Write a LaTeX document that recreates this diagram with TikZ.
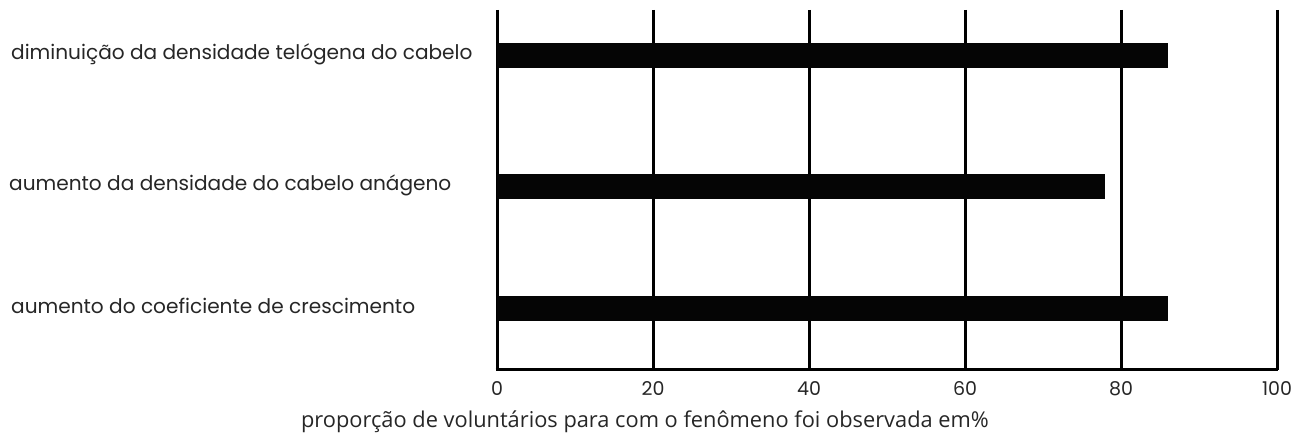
\documentclass[tikz,border=0pt]{standalone}
\usepackage{fontspec}
\setmainfont{Poppins}
\newfontfamily\titlefont{Open Sans}
\usepackage{tikz}

\begin{document}
\begin{tikzpicture}[x=1pt, y=-1pt,
	grid/.style={line width=3pt, black},
	bar/.style={fill=black!98},
	cat/.style={anchor=west, inner sep=0pt, font=\fontsize{20.1}{24}\selectfont, text=black!85},
	tick/.style={inner sep=0pt, font=\fontsize{19}{23}\selectfont, text=black!85},
	axistitle/.style={inner sep=0pt, font=\titlefont\fontsize{21.8}{26}\selectfont, text=black!85}]
	\useasboundingbox (0,0) rectangle (1306,436);

	% Category labels
	\node [cat] (dens)  at (11,54)  {diminuição da densidade telógena do cabelo};
	\node [cat] (anag)  at (9,185)  {aumento da densidade do cabelo anágeno};
	\node [cat] (coef)  at (11,306) {aumento do coeficiente de crescimento};

	% Grid, axis and bars (one unit = one percent)
	\begin{scope}[shift={(497,0)}, x=7.8pt]
		\foreach \v in {0,20,...,100}
		{
			\draw [grid] (\v,10) -- (\v,370);
			\node [tick] (t\v) at (\v,389) {\v};
		}
		\draw [grid] (-0.19,369) -- (100.19,369);

		\fill [bar] (0,43)  rectangle (86,68);
		\fill [bar] (0,174) rectangle (78,199);
		\fill [bar] (0,296) rectangle (86,321);
	\end{scope}

	% Axis title
	\node [axistitle] (title) at (645,422) {proporção de voluntários para com o fenômeno foi observada em\%};

\end{tikzpicture}
\end{document}
